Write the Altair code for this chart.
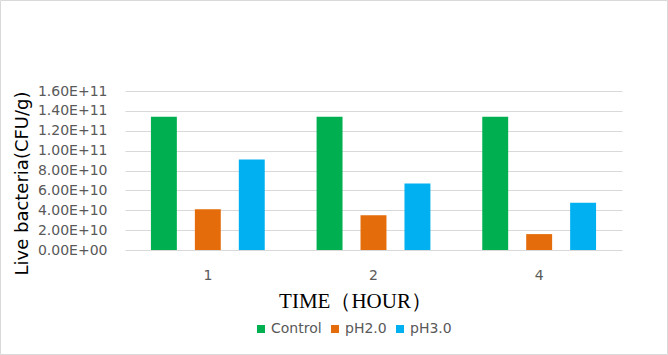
import altair as alt
import pandas as pd

hours = ["1", "2", "4"]
series = ["Control", "pH2.0", "pH3.0"]
control = [1.34e11, 1.34e11, 1.34e11]
ph2 = [4.1e10, 3.5e10, 1.6e10]
ph3 = [9.1e10, 6.7e10, 4.75e10]
colors = ["#00b050", "#e46c0a", "#00b0f0"]
y_ticks = [0, 2e10, 4e10, 6e10, 8e10, 1e11, 1.2e11, 1.4e11, 1.6e11]

rows = []
for i, h in enumerate(hours):
    for s, vals in zip(series, [control, ph2, ph3]):
        rows.append({"hour": h, "series": s, "value": vals[i]})
df = pd.DataFrame(rows)

W, H = 497, 159
PL, PT, PR, PB = 125, 91, 46, 105

bars = alt.Chart(df).mark_bar().encode(
    x=alt.X("hour:N", sort=hours,
            scale=alt.Scale(paddingInner=0, paddingOuter=0),
            axis=alt.Axis(title="TIME（HOUR）", labelAngle=0, ticks=False,
                          domain=False, labelPadding=18,
                          labelFont="DejaVu Sans", labelFontSize=14, labelColor="#595959",
                          titleFont="Liberation Serif", titleFontSize=21,
                          titleFontWeight="normal", titleColor="#000000",
                          titleX=230, titleY=51, titleBaseline="middle")),
    xOffset=alt.XOffset("series:N", sort=series,
                        scale=alt.Scale(paddingInner=0.41, paddingOuter=0.59)),
    y=alt.Y("value:Q", scale=alt.Scale(domain=[0, 1.6e11], nice=False),
            axis=alt.Axis(title="Live bacteria(CFU/g)", values=y_ticks,
                          labelExpr="datum.value == 0 ? '0.00E+00' : upper(format(datum.value, '.2e'))",
                          ticks=False, domain=False, labelPadding=18,
                          labelFont="DejaVu Sans", labelFontSize=14, labelColor="#595959",
                          gridColor="#d9d9d9", gridWidth=1,
                          titleFont="DejaVu Sans", titleFontSize=18,
                          titleFontWeight="normal", titleColor="#000000",
                          titleX=-103, titleY=92, titleAngle=-90,
                          titleBaseline="middle", titleAlign="center")),
    color=alt.Color("series:N", sort=series,
                    scale=alt.Scale(domain=series, range=colors),
                    legend=alt.Legend(title=None, orient="none", direction="horizontal",
                                      legendX=129, legendY=231,
                                      symbolType="square", symbolSize=64,
                                      symbolStrokeWidth=0,
                                      labelFont="DejaVu Sans", labelFontSize=14,
                                      labelColor="#595959", columnPadding=6,
                                      labelOffset=3)),
)

border = alt.Chart(pd.DataFrame({"a": [0]})).mark_rect(
    fill=None, stroke="#d9d9d9", strokeWidth=1, clip=False
).encode(
    x=alt.value(-PL + 0.5), x2=alt.value(W + PR - 0.5),
    y=alt.value(-PT + 0.5), y2=alt.value(H + PB - 0.5),
)

chart = alt.layer(bars, border).properties(
    width=W, height=H,
    autosize=alt.AutoSizeParams(type="none"),
    padding={"left": PL, "top": PT, "right": PR, "bottom": PB},
    background="white",
).configure_view(stroke=None)

chart.save("out.html", embed_options={"renderer": "svg", "actions": False})
